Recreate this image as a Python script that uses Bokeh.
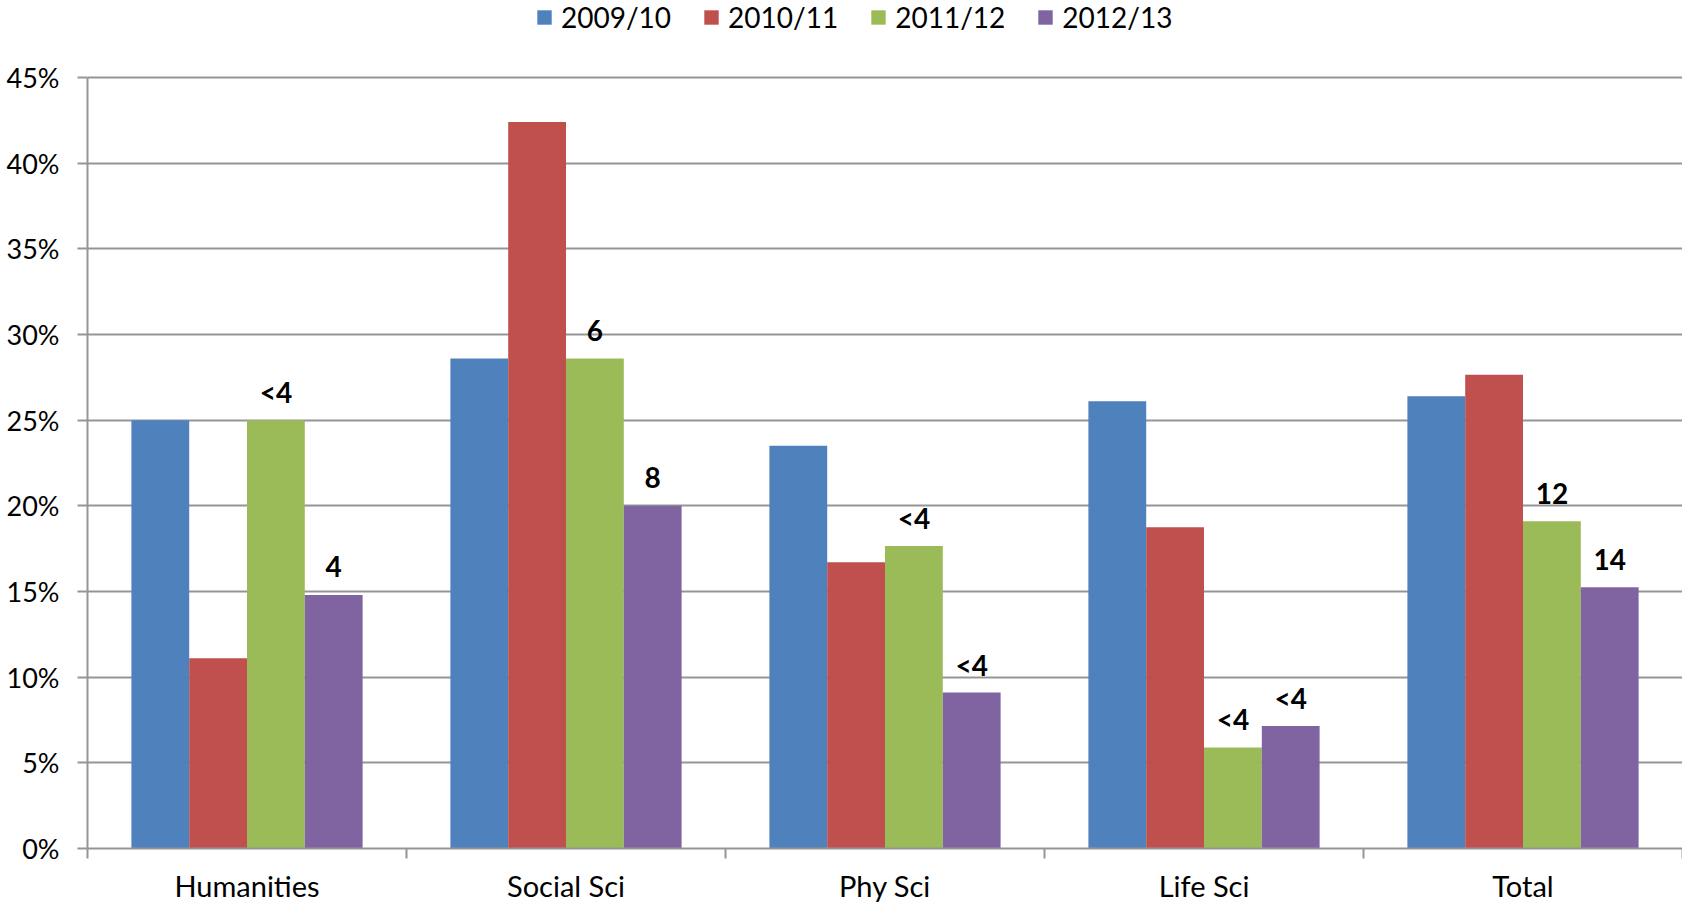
from bokeh.plotting import figure
from bokeh.models import (ColumnDataSource, Range1d, FixedTicker, NumeralTickFormatter,
                          Legend, LegendItem)
from bokeh.transform import dodge
from bokeh.core.properties import value
from bokeh.embed import file_html
from bokeh.resources import INLINE

# ---- data ----
categories = ["Humanities", "Social Sci", "Phy Sci", "Life Sci", "Total"]
series_names = ["2009/10", "2010/11", "2011/12", "2012/13"]
v_2009 = [25.0, 28.6, 23.5, 26.1, 26.4]
v_2010 = [11.1, 42.4, 16.7, 18.75, 27.65]
v_2011 = [25.0, 28.6, 17.65, 5.9, 19.1]
v_2012 = [14.8, 20.0, 9.1, 7.15, 15.25]
labels_2011 = ["<4", "6", "<4", "<4", "12"]
labels_2012 = ["4", "8", "<4", "<4", "14"]
y_ticks = [0, 5, 10, 15, 20, 25, 30, 35, 40, 45]

colors = ["#4F81BD", "#C0504D", "#9BBB59", "#8064A2"]
GRID = "#959595"
FONT = "Lato"

src = ColumnDataSource(dict(
    xc=[i + 0.5 for i in range(len(categories))],
    cat=categories,
    s0=[v / 100 for v in v_2009],
    s1=[v / 100 for v in v_2010],
    s2=[v / 100 for v in v_2011],
    s3=[v / 100 for v in v_2012],
    l2=labels_2011,
    l3=labels_2012,
))

W, H = 1682, 905
p = figure(width=W, height=H, output_backend="svg", toolbar_location=None,
           x_range=Range1d(0, 5.0), y_range=Range1d(0, 0.4949))
p.min_border_left = 87
p.min_border_right = 0
p.min_border_top = 0
p.min_border_bottom = 57
p.outline_line_color = None
p.background_fill_color = "white"
p.border_fill_color = "white"

bw = 0.1812
offsets = [-1.5 * bw, -0.5 * bw, 0.5 * bw, 1.5 * bw]
renderers = []
for k in range(4):
    r = p.vbar(x=dodge("xc", offsets[k]), top="s%d" % k, width=bw, bottom=0,
               source=src, fill_color=colors[k], line_color=None)
    renderers.append(r)

for k, col in ((2, "l2"), (3, "l3")):
    p.text(x=dodge("xc", offsets[k]), y="s%d" % k, text=col, source=src,
           text_align="center", text_baseline="alphabetic", y_offset=-28,
           text_font=value(FONT), text_font_style="bold", text_font_size="28px",
           text_color="black")

# grid
p.xgrid.visible = False
p.ygrid.ticker = FixedTicker(ticks=[t / 100 for t in y_ticks])
p.ygrid.grid_line_color = GRID
p.ygrid.grid_line_width = 2

# y axis
ya = p.yaxis[0]
ya.ticker = FixedTicker(ticks=[t / 100 for t in y_ticks])
ya.formatter = NumeralTickFormatter(format="0%")
ya.bounds = (0, 0.45)
ya.axis_line_color = GRID
ya.axis_line_width = 2
ya.major_tick_line_color = GRID
ya.major_tick_line_width = 2
ya.major_tick_out = 10
ya.major_tick_in = 0
ya.minor_tick_line_color = None
ya.major_label_standoff = 18
ya.major_label_text_font = FONT
ya.major_label_text_font_size = "27px"
ya.major_label_text_color = "black"

# x axis
xa = p.xaxis[0]
xa.ticker = FixedTicker(ticks=[i + 0.5 for i in range(len(categories))],
                        minor_ticks=list(range(len(categories) + 1)))
xa.major_label_overrides = {i + 0.5: c for i, c in enumerate(categories)}
xa.axis_line_color = GRID
xa.axis_line_width = 2
xa.major_tick_line_color = None
xa.major_tick_out = 0
xa.major_tick_in = 0
xa.minor_tick_line_color = GRID
xa.minor_tick_line_width = 2
xa.minor_tick_out = 10
xa.minor_tick_in = 0
xa.major_label_standoff = 9
xa.major_label_text_font = FONT
xa.major_label_text_font_size = "29px"
xa.major_label_text_color = "black"

legend = Legend(items=[LegendItem(label=n, renderers=[r]) for n, r in zip(series_names, renderers)],
                orientation="horizontal", location=(448, 814))
legend.glyph_width = 18
legend.glyph_height = 18
legend.label_standoff = 8
legend.spacing = 31
legend.padding = 0
legend.margin = 0
legend.border_line_color = None
legend.background_fill_alpha = 0
legend.label_text_font = FONT
legend.label_text_font_size = "28px"
legend.label_text_color = "black"
legend.label_height = 20
p.add_layout(legend, "center")

open("out.html", "w").write(file_html(p, INLINE))
